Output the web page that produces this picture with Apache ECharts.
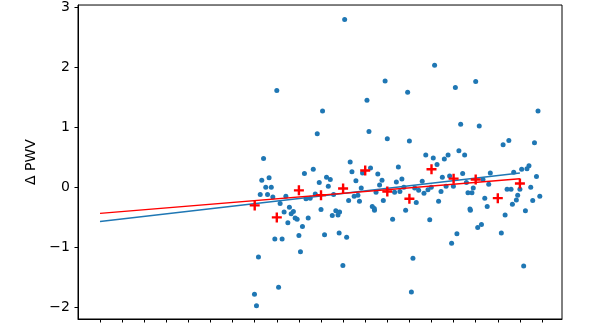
<!DOCTYPE html>
<html>
<head>
<meta charset="utf-8">
<script src="https://cdn.jsdelivr.net/npm/echarts@6/dist/echarts.min.js"></script>
<style>
  html, body { margin: 0; padding: 0; background: #fff; }
  #chart { width: 592px; height: 323px; }
</style>
</head>
<body>
<div id="chart"></div>
<script>
// individual measurements
const pointX = [
  11.07, 8.0, 12.9, 12.08, 10.07, 15.14, 13.92, 16.08, 17.0, 19.82,
  9.83, 12.17, 13.0, 14.0, 16.32, 17.16, 18.24, 18.5, 19.66, 14.74,
  15.08, 15.25, 15.58, 15.75, 16.24, 16.5, 11.32, 9.65, 12.24, 13.5,
  19.08, 19.32, 19.41, 7.4, 9.25, 7.32, 7.65, 7.5, 7.75, 7.25,
  7.58, 7.82, 9.92, 10.25, 10.42, 10.33, 9.74, 8.15, 8.41, 9.32,
  9.51, 8.57, 8.33, 8.75, 8.65, 10.0, 10.57, 10.67, 10.84, 10.51,
  10.77, 11.25, 8.5, 8.83, 8.92, 9.42, 9.16, 9.0, 9.07, 7.91,
  8.24, 7.17, 8.08, 6.99, 7.08, 10.16, 10.82, 11.16, 10.99, 12.42,
  13.24, 13.83, 14.92, 15.91, 14.16, 14.09, 16.76, 16.15, 17.09, 17.26,
  18.16, 18.33, 19.25, 19.17, 11.4, 11.88, 12.57, 12.76, 12.65, 11.58,
  11.82, 11.5, 11.67, 11.74, 12.32, 12.41, 12.49, 12.82, 13.33, 13.57,
  13.41, 13.66, 14.31, 14.24, 14.42, 14.58, 14.66, 14.84, 14.99, 15.32,
  15.43, 15.49, 15.66, 15.82, 15.99, 13.75, 16.41, 17.66, 17.33, 16.58,
  16.89, 17.59, 16.65, 16.83, 17.41, 17.52, 16.74, 18.42, 18.6, 18.72,
  19.75, 19.49, 19.9, 19.0, 18.9, 18.84, 18.66, 19.58
];
const pointY = [
  2.79, 1.61, 1.77, 1.45, 1.27, 2.03, 1.58, 1.66, 1.76, 1.27,
  0.89, 0.93, 0.81, 0.77, 1.05, 1.02, 0.71, 0.78, 0.74, 0.54,
  0.49, 0.38, 0.47, 0.54, 0.61, 0.54, 0.42, 0.30, 0.32, 0.34,
  0.30, 0.31, 0.36, 0.48, 0.23, 0.12, 0.16, 0.0, 0.0, -0.12,
  -0.12, -0.16, 0.08, 0.17, 0.13, 0.02, -0.11, -0.27, -0.15, -0.19,
  -0.18, -0.33, -0.41, -0.40, -0.44, -0.37, -0.12, -0.39, -0.41, -0.47,
  -0.46, -0.22, -0.59, -0.51, -0.53, -0.51, -0.65, -0.80, -1.07, -0.86,
  -0.86, -1.16, -1.66, -1.78, -1.97, -0.79, -0.76, -0.83, -1.30, -0.38,
  -0.53, -0.38, -0.54, -0.93, -1.18, -1.74, -0.38, -0.77, -0.67, -0.62,
  -0.76, -0.46, -0.39, -1.31, 0.26, 0.24, 0.22, 0.12, 0.04, 0.11,
  -0.01, -0.15, -0.13, -0.23, -0.32, -0.35, -0.08, -0.22, -0.08, -0.07,
  0.09, 0.14, -0.25, -0.01, -0.05, 0.10, -0.10, -0.04, 0.0, -0.23,
  -0.07, 0.17, 0.02, 0.19, 0.02, 0.0, 0.23, 0.24, 0.13, 0.08,
  -0.01, 0.05, -0.09, -0.09, -0.18, -0.32, -0.36, -0.03, -0.03, 0.25,
  0.18, 0.0, -0.15, -0.03, -0.13, -0.21, -0.28, -0.22
];

// binned means (red crosses)
const binX = [7, 8, 9, 10, 11, 12, 13, 14, 15, 16, 17, 18, 19];
const binMean = [-0.30, -0.50, -0.05, -0.13, -0.02, 0.28, -0.07, -0.19, 0.30, 0.145, 0.13, -0.18, 0.065];

// fitted lines
const fitX = [0, 19];
const blueFitY = [-0.567, 0.238];
const redFitY = [-0.433, 0.145];

const yTicks = [-2, -1, 0, 1, 2, 3];
const xTicks = [0, 1, 2, 3, 4, 5, 6, 7, 8, 9, 10, 11, 12, 13, 14, 15, 16, 17, 18, 19, 20];

const plusPath = 'path://M3.8,0H6.2V3.8H10V6.2H6.2V10H3.8V6.2H0V3.8H3.8Z';

const chart = echarts.init(document.getElementById('chart'));
chart.setOption({
  animation: false,
  grid: {
    left: 78, right: 30, top: 5, bottom: 4,
    show: true, borderColor: '#000', borderWidth: 1
  },
  xAxis: {
    type: 'value',
    min: -0.996,
    max: 20.905,
    axisLine: { show: true, onZero: false, lineStyle: { color: '#000', width: 1 } },
    axisTick: { show: true, length: 3.5, lineStyle: { color: '#000' }, customValues: xTicks },
    axisLabel: { show: false },
    splitLine: { show: false }
  },
  yAxis: {
    type: 'value',
    min: -2.19,
    max: 3.033,
    name: 'Δ PWV',
    nameLocation: 'middle',
    nameGap: 38,
    nameTextStyle: { fontFamily: 'DejaVu Sans', fontSize: 14, color: '#000' },
    axisLine: { show: true, onZero: false, lineStyle: { color: '#000', width: 1 } },
    axisTick: { show: true, length: 3.5, lineStyle: { color: '#000' }, customValues: yTicks },
    axisLabel: {
      customValues: yTicks,
      margin: 8,
      fontFamily: 'DejaVu Sans',
      fontSize: 14,
      color: '#000',
      formatter: v => (v < 0 ? '\u2212' + Math.abs(v) : String(v))
    },
    splitLine: { show: false }
  },
  series: [
    {
      type: 'scatter',
      data: pointX.map((x, i) => [x, pointY[i]]),
      symbolSize: 5,
      itemStyle: { color: '#1f77b4', opacity: 1 },
      z: 2
    },
    {
      type: 'line',
      data: fitX.map((x, i) => [x, blueFitY[i]]),
      showSymbol: false,
      lineStyle: { color: '#1f77b4', width: 1.5 },
      z: 3
    },
    {
      type: 'line',
      data: fitX.map((x, i) => [x, redFitY[i]]),
      showSymbol: false,
      lineStyle: { color: '#ff0000', width: 1.5 },
      z: 4
    },
    {
      type: 'scatter',
      data: binX.map((x, i) => [x, binMean[i]]),
      symbol: plusPath,
      symbolSize: 10,
      itemStyle: { color: '#ff0000', opacity: 1 },
      z: 5
    }
  ]
});
</script>
</body>
</html>
